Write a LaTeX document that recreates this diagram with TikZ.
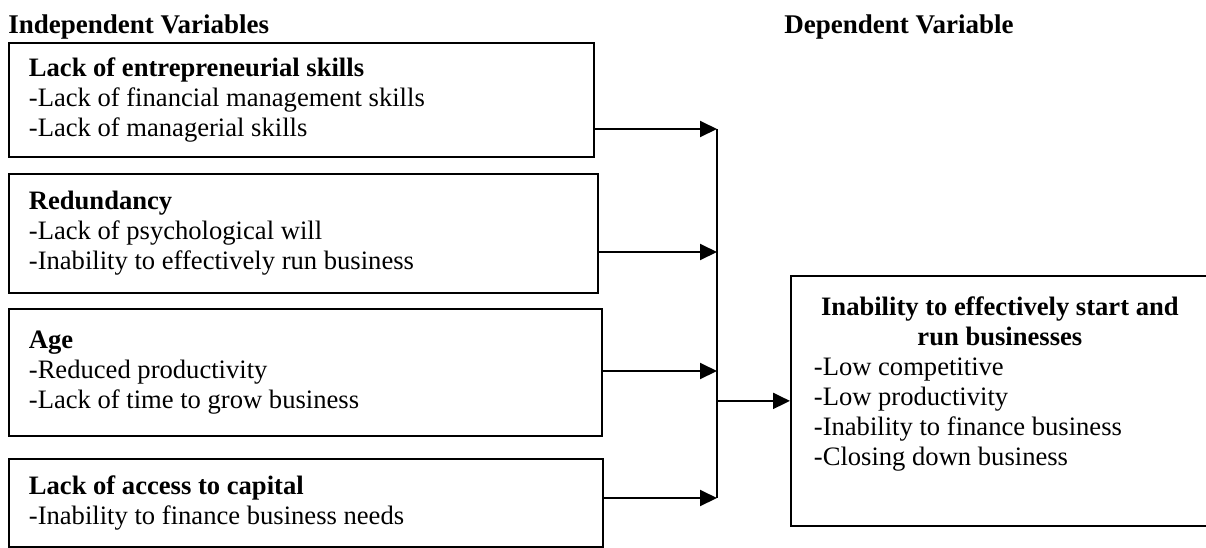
\documentclass[tikz,border=0pt]{standalone}
\usepackage{fontspec}
\setmainfont{Liberation Serif}
\usepackage{tikz}
\usetikzlibrary{positioning, arrows.meta}

\tikzset{
  varbox/.style={draw, line width=0.9pt, rectangle, anchor=north west,
    inner xsep=10pt, font=\fontsize{13.3}{15}\selectfont,
    execute at begin node={\spaceskip=0pt\xspaceskip=0pt\rightskip=0pt plus 1fil}},
  heading/.style={anchor=base west, inner sep=0pt, font=\fontsize{13.5}{15}\selectfont\bfseries},
  link/.style={line width=1pt, -{Triangle[length=8.5pt,width=8pt]}}
}

\begin{document}
\begin{tikzpicture}[x=0.5pt, y=-0.5pt]
    \useasboundingbox (0,0) rectangle (1206,547);

    % Define nodes
    \node[heading] (indep) at (8,33) {Independent Variables};
    \node[heading] (dep) at (784,33) {Dependent Variable};

    \node[varbox, minimum width=292.5pt, text width=272.5pt, minimum height=57pt] (skills) at (8,42)
        {\textbf{Lack of entrepreneurial skills}\\-Lack of financial management skills\\-Lack of managerial skills};
    \node[varbox, minimum width=294.5pt, text width=274.5pt, minimum height=59.5pt] (redund) at (8,173)
        {\textbf{Redundancy}\\-Lack of psychological will\\-Inability to effectively run business};
    \node[varbox, minimum width=296.5pt, text width=276.5pt, minimum height=63.5pt] (age) at (8,308)
        {\textbf{Age}\\-Reduced productivity\\-Lack of time to grow business};
    \node[varbox, minimum width=297pt, text width=277pt, minimum height=44pt] (capital) at (8,458)
        {\textbf{Lack of access to capital}\\-Inability to finance business needs};

    \node[varbox, minimum width=209pt, minimum height=125pt, text width=186pt, inner xsep=11.5pt] (result) at (790,275)
        {{\centering\bfseries Inability to effectively start and\\ run businesses\par}
         -Low competitive\\-Low productivity\\-Inability to finance business\\-Closing down business\\[5pt]\mbox{}};

    \coordinate (in1) at (717,129);
    \coordinate (in2) at (717,252);
    \coordinate (in3) at (717,371);
    \coordinate (in4) at (717,498);

    % Draw arrows
    \draw[link] (in1 -| skills.east) -- (in1);
    \draw[link] (in2 -| redund.east) -- (in2);
    \draw[link] (in3 -| age.east) -- (in3);
    \draw[link] (in4 -| capital.east) -- (in4);
    \draw[line width=1pt] (in1) -- (in4);
    \draw[link] (in1 |- result.west) -- (result.west);
\end{tikzpicture}
\end{document}
